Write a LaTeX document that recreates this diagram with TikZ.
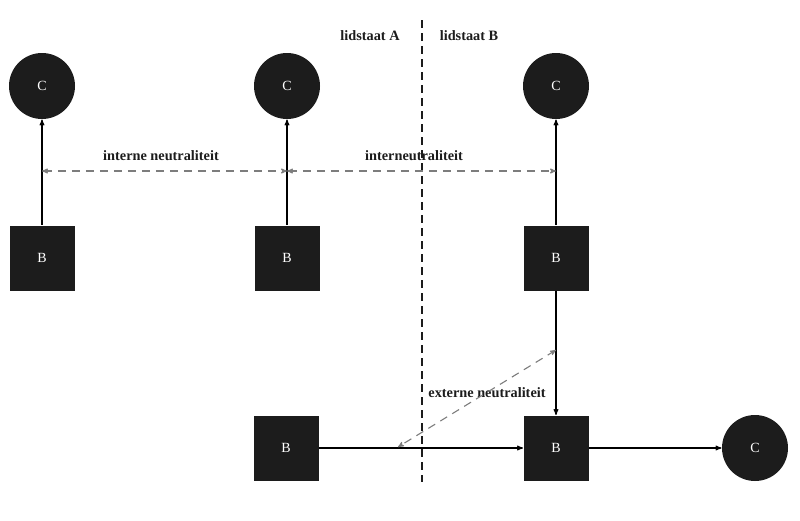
\documentclass[tikz,border=0pt]{standalone}
\usepackage{fontspec}
\setmainfont{Liberation Serif}
\usetikzlibrary{arrows}

\definecolor{boxfill}{RGB}{28,28,28}
\definecolor{dashgray}{RGB}{125,125,125}

\begin{document}
\begin{tikzpicture}[->,>=stealth',x=1pt,y=-1pt,line width=1.1pt,node distance=172pt,
                    font=\fontsize{14}{16}\selectfont]

  \tikzstyle{firm}=[rectangle,fill=boxfill,text=white,minimum size=65pt,inner sep=0pt]
  \tikzstyle{consumer}=[circle,fill=boxfill,text=white,minimum size=66pt,inner sep=0pt]
  \tikzstyle{neutral}=[<->,dashgray,dash pattern=on 8pt off 6pt]
  \tikzstyle{tagtext}=[font=\fontsize{14.3}{16}\selectfont\bfseries,text=boxfill]

  \useasboundingbox (0,0) rectangle (800,520);

  \node[firm]     (B1)               at (42,258)  {B};
  \node[consumer] (C1) [above of=B1]              {C};
  \node[firm]     (B2)               at (287,258) {B};
  \node[consumer] (C2) [above of=B2]              {C};
  \node[firm]     (B3)               at (556,258) {B};
  \node[consumer] (C3) [above of=B3]              {C};
  \node[firm]     (B4)               at (286,448) {B};
  \node[firm]     (B5) [below of=B3,node distance=190pt] {B};
  \node[consumer] (C4) [right of=B5,node distance=199pt] {C};

  \node[tagtext] (LA) at (370,36)  {lidstaat A};
  \node[tagtext] (LB) at (469,36)  {lidstaat B};
  \node[tagtext] (IN) at (161,156) {interne neutraliteit};
  \node[tagtext] (IM) at (414,156) {interneutraliteit};
  \node[tagtext] (EX) at (487,393) {externe neutraliteit};

  % grens tussen de lidstaten
  \coordinate (top) at (422,20);
  \coordinate (bot) at (422,482);
  \draw[-,line width=1.2pt,boxfill,dash pattern=on 8pt off 5pt] (top) -- (bot);

  \coordinate (n1) at (42,171);
  \coordinate (n2) at (287,171);
  \coordinate (n3) at (556,171);
  \coordinate (e1) at (556,350);
  \coordinate (e2) at (398,447);

  \path
  (B1) edge (C1)
  (B2) edge (C2)
  (B3) edge (C3)
  (B3) edge (B5)
  (B4) edge (B5)
  (B5) edge (C4)
  ;
  \draw[neutral] (n1) -- (n2);
  \draw[neutral] (n2) -- (n3);
  \draw[neutral] (e1) -- (e2);
\end{tikzpicture}
\end{document}
